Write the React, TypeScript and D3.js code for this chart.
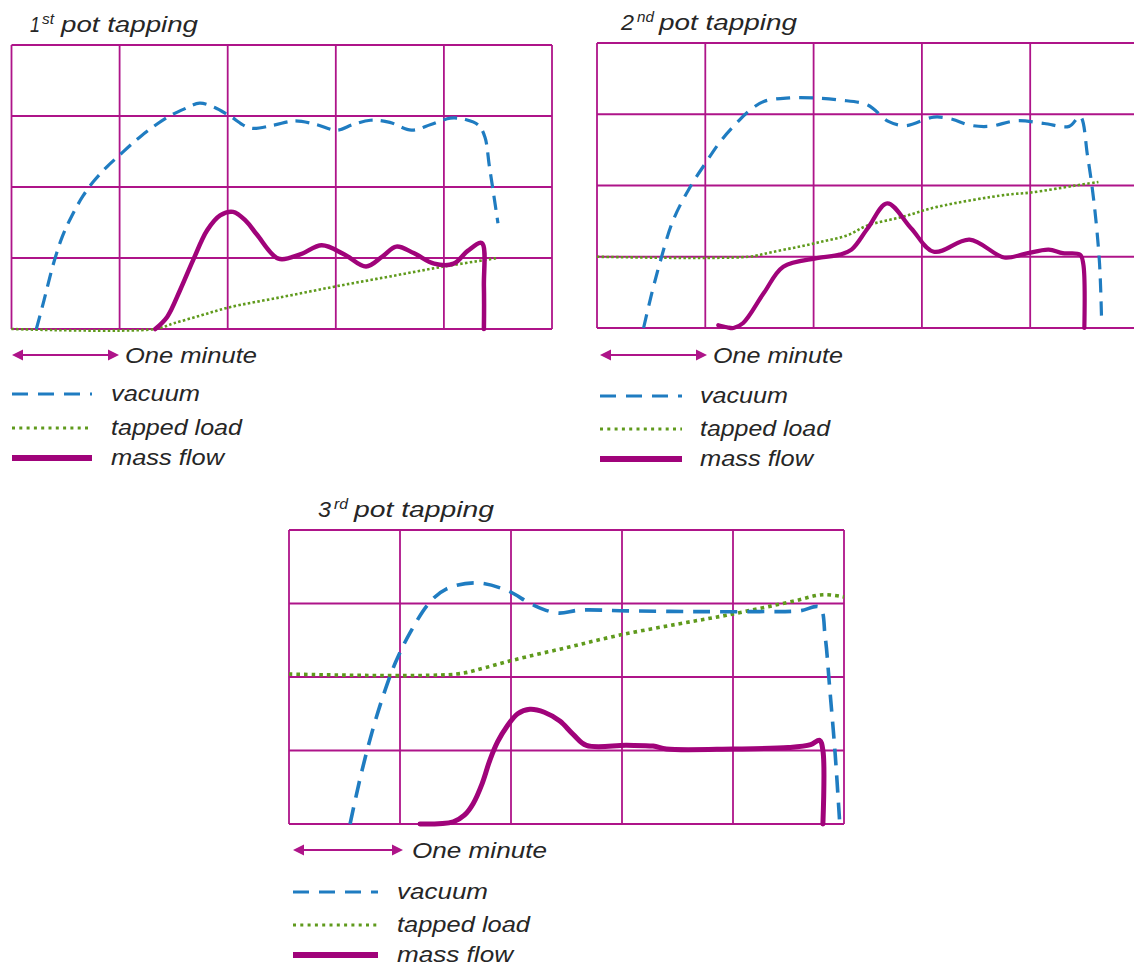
import React from 'react';
import * as d3 from 'd3';

// ---- data: x in minutes (one grid column = one minute), y in grid divisions (0..4)
type P = [number, number];

const vacuum1: P[] = [
  [0.23, 0], [0.3, 0.4], [0.39, 0.93], [0.47, 1.3], [0.56, 1.6], [0.66, 1.87], [0.76, 2.08],
  [0.88, 2.28], [1.0, 2.45], [1.2, 2.72], [1.44, 2.98], [1.6, 3.1], [1.74, 3.18], [1.88, 3.12],
  [2.02, 3.0], [2.21, 2.83], [2.42, 2.87], [2.62, 2.93], [2.82, 2.88], [3.01, 2.8], [3.16, 2.88],
  [3.32, 2.94], [3.5, 2.91], [3.7, 2.8], [3.88, 2.88], [4.06, 2.97], [4.2, 2.95], [4.32, 2.87],
  [4.38, 2.7], [4.42, 2.3], [4.46, 1.9], [4.5, 1.49],
];
const tapped1: P[] = [
  [0, 0], [1.33, 0], [1.5, 0.08], [1.75, 0.19], [2.0, 0.3], [2.5, 0.45], [3.0, 0.6],
  [3.5, 0.74], [4.0, 0.88], [4.5, 1.0],
];
const mass1: P[] = [
  [1.33, 0], [1.44, 0.17], [1.56, 0.55], [1.68, 0.97], [1.81, 1.39], [1.93, 1.6], [2.05, 1.65],
  [2.17, 1.52], [2.27, 1.33], [2.47, 0.99], [2.67, 1.05], [2.87, 1.18], [3.08, 1.05],
  [3.28, 0.88], [3.43, 1.02], [3.56, 1.16], [3.72, 1.07], [3.91, 0.92], [4.09, 0.92],
  [4.22, 1.1], [4.35, 1.21], [4.37, 0.6], [4.37, 0],
];

const vacuum2: P[] = [
  [0.43, 0], [0.5, 0.45], [0.58, 0.91], [0.7, 1.5], [0.86, 1.98], [1.0, 2.31], [1.13, 2.6],
  [1.26, 2.83], [1.4, 3.04], [1.54, 3.18], [1.78, 3.23], [2.0, 3.23], [2.24, 3.2], [2.5, 3.13],
  [2.69, 2.9], [2.85, 2.84], [3.11, 2.96], [3.28, 2.93], [3.43, 2.85], [3.62, 2.83],
  [3.88, 2.91], [4.13, 2.87], [4.36, 2.83], [4.46, 2.97], [4.53, 2.41], [4.59, 1.75],
  [4.64, 0.91], [4.66, 0.05],
];
const tapped2: P[] = [
  [0, 1.0], [1.4, 1.0], [1.6, 1.06], [1.86, 1.14], [2.1, 1.22], [2.31, 1.3], [2.5, 1.44],
  [2.82, 1.56], [3.14, 1.7], [3.78, 1.87], [4.0, 1.9], [4.42, 2.0], [4.63, 2.05],
];
const mass2: P[] = [
  [1.12, 0.04], [1.2, 0.01], [1.26, 0], [1.35, 0.07], [1.54, 0.49], [1.72, 0.86], [2.03, 0.98],
  [2.24, 1.03], [2.35, 1.1], [2.5, 1.4], [2.68, 1.75], [2.9, 1.4], [3.11, 1.07], [3.44, 1.24],
  [3.76, 0.99], [3.95, 1.04], [4.17, 1.1], [4.3, 1.05], [4.46, 1.03], [4.49, 0.9], [4.5, 0],
];

const vacuum3: P[] = [
  [0.55, 0], [0.65, 0.68], [0.75, 1.26], [0.85, 1.75], [0.96, 2.2], [1.09, 2.6], [1.27, 3.02],
  [1.42, 3.2], [1.69, 3.28], [1.96, 3.18], [2.2, 2.98], [2.42, 2.87], [2.62, 2.91],
  [3.04, 2.9], [3.64, 2.89], [4.24, 2.89], [4.6, 2.9], [4.78, 2.95], [4.83, 2.55],
  [4.87, 1.87], [4.92, 0.96], [4.96, 0.05],
];
const tapped3: P[] = [
  [0, 2.04], [1.51, 2.04], [1.75, 2.12], [2.02, 2.23], [2.5, 2.4], [2.98, 2.57], [3.5, 2.72],
  [3.94, 2.84], [4.54, 3.03], [4.81, 3.12], [5.0, 3.09],
];
const mass3: P[] = [
  [1.18, 0], [1.48, 0.03], [1.58, 0.12], [1.66, 0.28], [1.74, 0.55], [1.81, 0.87], [1.88, 1.12],
  [1.96, 1.32], [2.06, 1.5], [2.17, 1.56], [2.3, 1.52], [2.44, 1.4], [2.56, 1.22], [2.68, 1.07],
  [3.04, 1.07], [3.28, 1.06], [3.4, 1.02], [4.0, 1.02], [4.5, 1.04], [4.7, 1.08], [4.78, 1.14],
  [4.81, 1.0], [4.81, 0],
];

const titles = [
  { num: '1', sup: 'st', rest: 'pot tapping' },
  { num: '2', sup: 'nd', rest: 'pot tapping' },
  { num: '3', sup: 'rd', rest: 'pot tapping' },
];
const legendLabels = ['vacuum', 'tapped load', 'mass flow'];
const minuteLabel = 'One minute';
const COLUMNS = 5;
const ROWS = 4;

const GRID = '#ae1489';
const MASS = '#a0037a';
const VAC = '#1f7cc1';
const LOAD = '#5f9a1c';
const TEXT = '#262626';
const FONT = '"Liberation Sans", Arial, sans-serif';

type PanelProps = {
  x0: number; x1: number; top: number; bottom: number;
  vac: P[]; load: P[]; mass: P[];
  vacW: number; vacDash: string; loadW: number; loadDash: string; massW: number; gridW: number;
};

function Panel(p: PanelProps) {
  const x = d3.scaleLinear().domain([0, COLUMNS]).range([p.x0, p.x1]);
  const y = d3.scaleLinear().domain([0, ROWS]).range([p.bottom, p.top]);
  const line = d3.line<P>().x(d => x(d[0])).y(d => y(d[1])).curve(d3.curveCatmullRom.alpha(0.5));
  return (
    <g>
      {d3.range(ROWS + 1).map(i => (
        <line key={'h' + i} x1={x(0)} x2={x(COLUMNS)} y1={y(i)} y2={y(i)} stroke={GRID} strokeWidth={p.gridW} />
      ))}
      {d3.range(COLUMNS + 1).map(i => (
        <line key={'v' + i} x1={x(i)} x2={x(i)} y1={y(0)} y2={y(ROWS)} stroke={GRID} strokeWidth={p.gridW} />
      ))}
      <path d={line(p.load) || ''} fill="none" stroke={LOAD} strokeWidth={p.loadW} strokeDasharray={p.loadDash} />
      <path d={line(p.vac) || ''} fill="none" stroke={VAC} strokeWidth={p.vacW} strokeDasharray={p.vacDash} />
      <path d={line(p.mass) || ''} fill="none" stroke={MASS} strokeWidth={p.massW} strokeLinejoin="round" strokeLinecap="round" />
    </g>
  );
}

function Title({ x, y, t, numW, supX, supW, restX, restW }: any) {
  return (
    <g fontFamily={FONT} fontStyle="italic" fill={TEXT}>
      <text x={x} y={y} fontSize={22} textLength={numW} lengthAdjust="spacingAndGlyphs">{t.num}</text>
      <text x={supX} y={y - 8} fontSize={14} textLength={supW} lengthAdjust="spacingAndGlyphs">{t.sup}</text>
      <text x={restX} y={y} fontSize={22} textLength={restW} lengthAdjust="spacingAndGlyphs">{t.rest}</text>
    </g>
  );
}

function Legend({ ax1, ax2, ay, mx, mw, lx1, lx2, tx, ys, ws }: any) {
  const h = 5.5;
  const al = 11;
  return (
    <g fontFamily={FONT} fontStyle="italic" fill={TEXT}>
      <line x1={ax1 + al - 1} x2={ax2 - al + 1} y1={ay} y2={ay} stroke={GRID} strokeWidth={2} />
      <path d={`M${ax1},${ay} L${ax1 + al},${ay - h} L${ax1 + al},${ay + h} Z`} fill={GRID} />
      <path d={`M${ax2},${ay} L${ax2 - al},${ay - h} L${ax2 - al},${ay + h} Z`} fill={GRID} />
      <text x={mx} y={ay + 8} fontSize={22} textLength={mw} lengthAdjust="spacingAndGlyphs">{minuteLabel}</text>

      <line x1={lx1} x2={lx2} y1={ys[0]} y2={ys[0]} stroke={VAC} strokeWidth={3} strokeDasharray="16,10" />
      <line x1={lx1} x2={lx2} y1={ys[1]} y2={ys[1]} stroke={LOAD} strokeWidth={3} strokeDasharray="3,4.3" />
      <line x1={lx1} x2={lx2} y1={ys[2]} y2={ys[2]} stroke={MASS} strokeWidth={6} />
      {legendLabels.map((l, i) => (
        <text key={l} x={tx} y={ys[i] + 7} fontSize={22} textLength={ws[i]} lengthAdjust="spacingAndGlyphs">{l}</text>
      ))}
    </g>
  );
}

export default function App() {
  return (
    <svg width={1134} height={966} style={{ position: 'absolute', left: 0, top: 0, display: 'block', background: '#fff' }}>
      <Title x={30} y={32} t={titles[0]} numW={10} supX={42} supW={12} restX={61} restW={137} />
      <Title x={621} y={30} t={titles[1]} numW={13} supX={637} supW={17} restX={659} restW={138} />
      <Title x={318} y={517} t={titles[2]} numW={13} supX={334} supW={14} restX={354} restW={140} />

      <Panel x0={11.5} x1={552} top={45} bottom={329} vac={vacuum1} load={tapped1} mass={mass1}
        vacW={3.2} vacDash="14,8" loadW={2.6} loadDash="2.5,2.3" massW={4.5} gridW={1.8} />
      <Panel x0={597} x1={1138.5} top={43} bottom={328} vac={vacuum2} load={tapped2} mass={mass2}
        vacW={3.2} vacDash="14,9" loadW={2.6} loadDash="2.5,2.3" massW={4.2} gridW={1.8} />
      <Panel x0={289} x1={844} top={530} bottom={824} vac={vacuum3} load={tapped3} mass={mass3}
        vacW={3.6} vacDash="17,10" loadW={3.6} loadDash="3.6,4" massW={5} gridW={1.8} />

      <Legend ax1={12} ax2={119} ay={355} mx={125} mw={132} lx1={12} lx2={92} tx={111}
        ys={[394, 428, 458]} ws={[89, 131, 113]} />
      <Legend ax1={600} ax2={707} ay={355} mx={713} mw={130} lx1={600} lx2={682} tx={700}
        ys={[396, 429, 459]} ws={[88, 130, 113]} />
      <Legend ax1={293} ax2={403} ay={850} mx={412} mw={135} lx1={293} lx2={378} tx={397}
        ys={[892, 925, 955]} ws={[91, 133, 116]} />
    </svg>
  );
}
